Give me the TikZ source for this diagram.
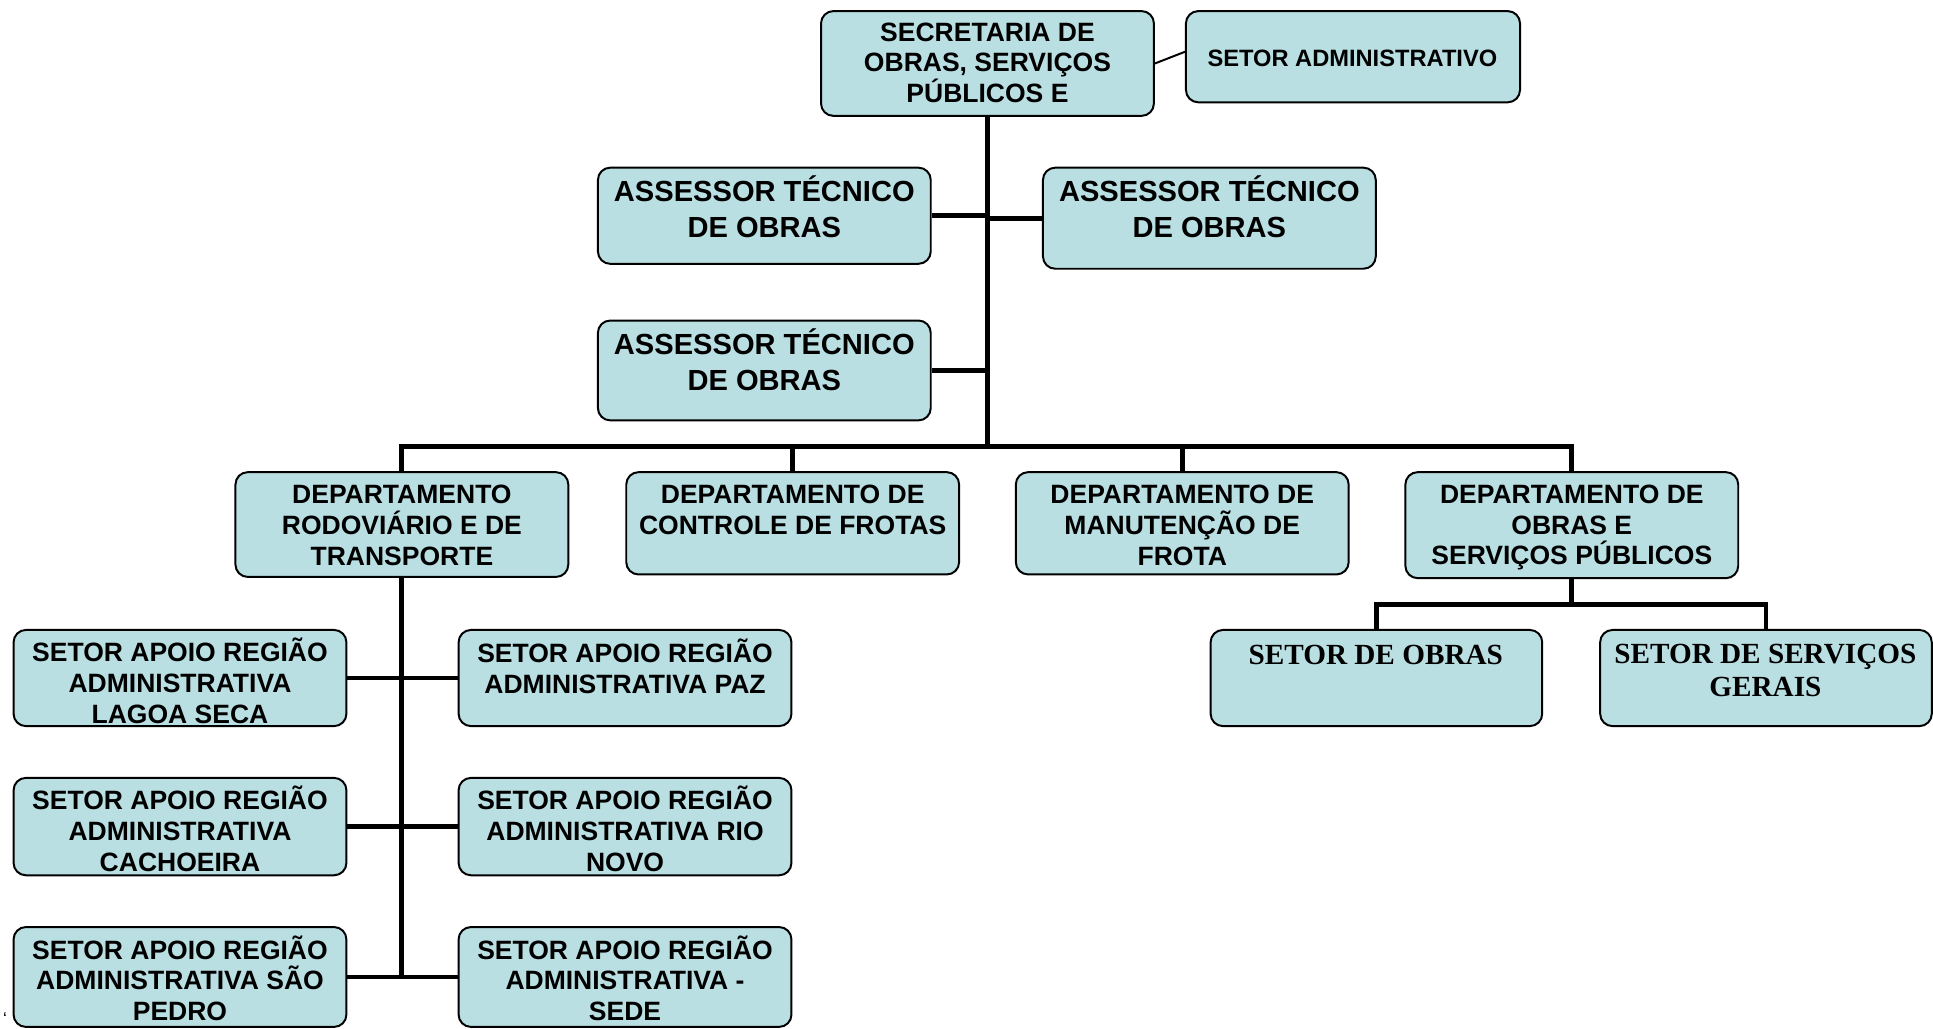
\documentclass[tikz,border=0pt]{standalone}
\usepackage{fontspec}
\setmainfont{Liberation Sans}
\newfontfamily\serifbold{Liberation Serif}
\definecolor{boxfill}{RGB}{185,223,227}
\tikzset{
  box/.style 2 args={draw=black, line width=0.8pt, fill=boxfill, rounded corners=5pt,
    minimum width=#1*0.5pt, minimum height=#2*0.5pt, inner sep=0pt},
  txt/.style={align=center, inner sep=0pt, font=\bfseries\fontsize{10.75}{12.5}\selectfont},
  bigtxt/.style={align=center, inner sep=0pt, font=\bfseries\fontsize{11.8}{14.5}\selectfont},
  smalltxt/.style={align=center, inner sep=0pt, font=\bfseries\fontsize{9.6}{11.5}\selectfont},
  seriftxt/.style={align=center, inner sep=0pt, font=\serifbold\bfseries\fontsize{11.85}{13.5}\selectfont},
  conn/.style={line width=2pt},
  thinconn/.style={line width=0.8pt}
}
\begin{document}
\begin{tikzpicture}[x=0.5pt, y=-0.5pt]
\useasboundingbox (0,0) rectangle (1568,834);
% boxes
\node[box={270}{85}] (sec) at (801,51.5) {};
\node[box={271}{74}] (adm) at (1097.5,46) {};
\node[box={270}{78}] (assl1) at (620,175) {};
\node[box={270}{82}] (assr) at (981,177) {};
\node[box={270}{81}] (assl2) at (620,300.5) {};
\node[box={270}{85}] (d1) at (326,425.5) {};
\node[box={270}{83}] (d2) at (643,424.5) {};
\node[box={270}{83}] (d3) at (959,424.5) {};
\node[box={270}{86}] (d4) at (1275,426) {};
\node[box={270}{78}] (sal1) at (146,550) {};
\node[box={270}{78}] (sar1) at (507,550) {};
\node[box={270}{79}] (sal2) at (146,670.5) {};
\node[box={270}{79}] (sar2) at (507,670.5) {};
\node[box={270}{81}] (sal3) at (146,792.5) {};
\node[box={270}{81}] (sar3) at (507,792.5) {};
\node[box={269}{78}] (so) at (1116.5,550) {};
\node[box={269}{78}] (ssg) at (1432.5,550) {};
% texts
\node[txt] (sec-t) at (801,51) {SECRETARIA DE\\OBRAS, SERVIÇOS\\PÚBLICOS E};
\node[smalltxt] (adm-t) at (1097,47) {SETOR ADMINISTRATIVO};
\node[bigtxt] (assl1-t) at (620,168) {ASSESSOR TÉCNICO\\DE OBRAS};
\node[bigtxt] (assr-t) at (981,168) {ASSESSOR TÉCNICO\\DE OBRAS};
\node[bigtxt] (assl2-t) at (620,292) {ASSESSOR TÉCNICO\\DE OBRAS};
\node[txt] (d1-t) at (326,426) {DEPARTAMENTO\\RODOVIÁRIO E DE\\TRANSPORTE};
\node[txt] (d2-t) at (643,413.5) {DEPARTAMENTO DE\\CONTROLE DE FROTAS};
\node[txt] (d3-t) at (959,426) {DEPARTAMENTO DE\\MANUTENÇÃO DE\\FROTA};
\node[txt] (d4-t) at (1275,428) {DEPARTAMENTO DE\\OBRAS E\\SERVIÇOS PÚBLICOS};
\node[txt] (sal1-t) at (146,552.5) {SETOR APOIO REGIÃO\\ADMINISTRATIVA\\LAGOA SECA};
\node[txt] (sar1-t) at (507,540.5) {SETOR APOIO REGIÃO\\ADMINISTRATIVA PAZ};
\node[txt] (sal2-t) at (146,672.5) {SETOR APOIO REGIÃO\\ADMINISTRATIVA\\CACHOEIRA};
\node[txt] (sar2-t) at (507,672.5) {SETOR APOIO REGIÃO\\ADMINISTRATIVA RIO\\NOVO};
\node[txt] (sal3-t) at (146,793.5) {SETOR APOIO REGIÃO\\ADMINISTRATIVA SÃO\\PEDRO};
\node[txt] (sar3-t) at (507,793.5) {SETOR APOIO REGIÃO\\ADMINISTRATIVA -\\SEDE};
\node[seriftxt] (so-t) at (1116,531) {SETOR DE OBRAS};
\node[seriftxt] (ssg-t) at (1432,544) {SETOR DE SERVIÇOS\\GERAIS};
\node[inner sep=0pt, font=\fontsize{7}{8}\selectfont] (mark) at (4,826) {‘};
% connector coordinates
\coordinate (bus) at (801,362);
\coordinate (d1end) at (326,794);
\coordinate (d4bus) at (1275,490);
% connectors
\draw[thinconn] (sec.east) -- ([yshift=2pt]adm.west);
\draw[conn] (sec.south) -- (bus);
\draw[conn] (assl1.east) -- (assl1.east -| sec.south);
\draw[conn] (assr.west) -- (assr.west -| sec.south);
\draw[conn] (assl2.east) -- (assl2.east -| sec.south);
\draw[conn] (d1.north) |- (bus) -| (d4.north);
\draw[conn] (d2.north) -- (d2.north |- bus);
\draw[conn] (d3.north) -- (d3.north |- bus);
\draw[conn] (d1.south) -- (d1end);
\draw[conn] (sal1.east) -- (sar1.west);
\draw[conn] (sal2.east) -- (sar2.west);
\draw[conn] (sal3.east) -- (sar3.west);
\draw[conn] (d4.south) -- (d4bus);
\draw[conn] (so.north) |- (d4bus) -| (ssg.north);
\end{tikzpicture}
\end{document}
